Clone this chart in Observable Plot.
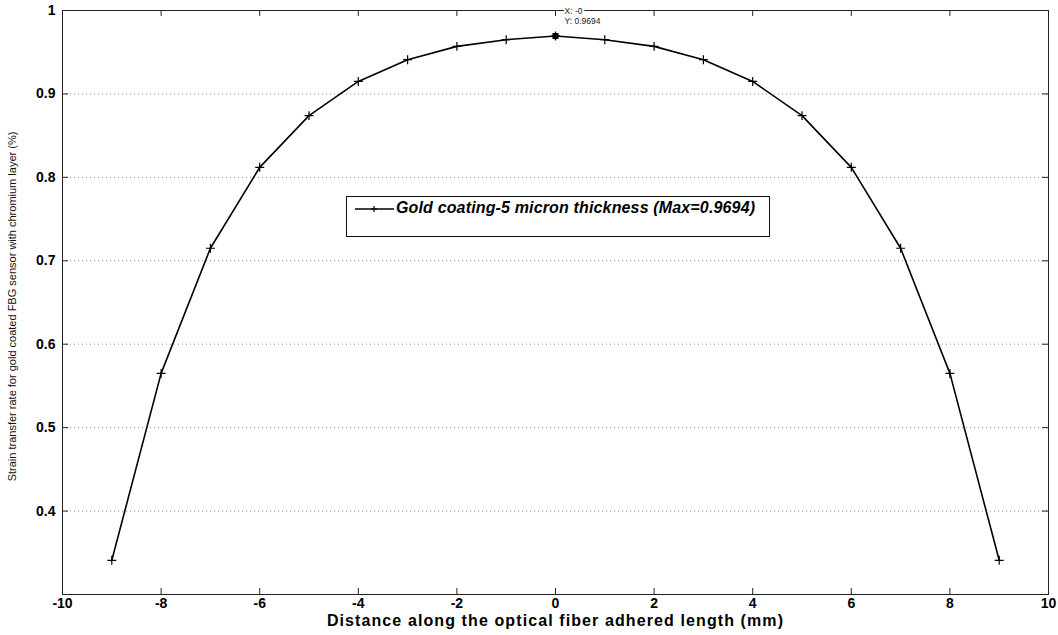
<!DOCTYPE html>
<html><head><meta charset="utf-8">
<script src="https://cdn.jsdelivr.net/npm/d3@7"></script>
<script src="https://cdn.jsdelivr.net/npm/@observablehq/plot@0.6"></script>
<style>
body{margin:0;background:#fff}
#wrap{position:relative;width:1058px;height:635px;font-family:"Liberation Sans",Arial,sans-serif}
#legend{position:absolute;left:346px;top:196px;width:424px;height:41px;border:1px solid #111;background:#fff;box-sizing:border-box}
#legend svg{position:absolute;left:6px;top:4px}
#legend span{position:absolute;left:49px;top:2px;font-size:16px;font-weight:bold;font-style:italic;white-space:nowrap;color:#000;letter-spacing:0.15px}
</style>
</head><body><div id="wrap"></div>
<script>
const distance = [-9,-8,-7,-6,-5,-4,-3,-2,-1,0,1,2,3,4,5,6,7,8,9];
const strainRate = [0.341,0.565,0.715,0.812,0.874,0.915,0.941,0.957,0.965,0.9694,0.965,0.957,0.941,0.915,0.874,0.812,0.715,0.565,0.341];
const xTicks = [-10,-8,-6,-4,-2,0,2,4,6,8,10];
const yTicks = [0.4,0.5,0.6,0.7,0.8,0.9,1];
const yGrid = [0.4,0.5,0.6,0.7,0.8,0.9];
const seriesName = "Gold coating-5 micron thickness (Max=0.9694)";
const xTitle = "Distance along the optical fiber adhered length (mm)";
const yTitle = "Strain transfer rate for gold coated FBG sensor with chromium layer (%)";
const tipX = [0];
const tipY = [0.9694];
const tipText = ["X: -0\nY: 0.9694"];

const data = distance.map((d, i) => ({x: d, y: strainRate[i]}));
const tip = tipX.map((d, i) => ({x: d, y: tipY[i], t: tipText[i]}));

const W = 1058, H = 635, mL = 62, mR = 10, mT = 10, mB = 41;
const fw = W - mL - mR, fh = H - mT - mB;

const chart = Plot.plot({
  width: W, height: H,
  marginLeft: mL, marginRight: mR, marginTop: mT, marginBottom: mB,
  style: {fontFamily: "'Liberation Sans', Arial, sans-serif", background: "#fff", color: "#000"},
  x: {domain: [-10, 10]},
  y: {domain: [0.3, 1]},
  marks: [
    Plot.ruleY(yGrid, {stroke: "#888", strokeDasharray: "1,3", strokeWidth: 1}),
    Plot.frame({stroke: "#222", strokeWidth: 1}),
    Plot.tickX(xTicks, {x: d => d, insetTop: fh - 6, stroke: "#222"}),
    Plot.tickX(xTicks, {x: d => d, insetBottom: fh - 6, stroke: "#222"}),
    Plot.tickY(yTicks, {y: d => d, insetRight: fw - 6, stroke: "#222"}),
    Plot.tickY(yTicks, {y: d => d, insetLeft: fw - 6, stroke: "#222"}),
    Plot.axisX(xTicks, {tickSize: 0, tickPadding: 4, fontSize: 14, fontWeight: "bold", label: null, tickFormat: d => String(d)}),
    Plot.axisY(yTicks, {tickSize: 0, tickPadding: 7, fontSize: 14, fontWeight: "bold", label: null, tickFormat: d => String(d)}),
    Plot.line(data, {x: "x", y: "y", stroke: "#000", strokeWidth: 1.6}),
    Plot.dot(data, {x: "x", y: "y", symbol: "plus", r: 3, stroke: "#000", strokeWidth: 1.2}),
    Plot.dot(tip, {x: "x", y: "y", symbol: "square", fill: "#000", r: 3.4}),
    Plot.text(tip, {x: "x", y: "y", text: "t", dx: 9, dy: -29, textAnchor: "start", lineAnchor: "top", fontSize: 8.5, lineHeight: 1.2, fill: "#222", stroke: "#fff", strokeWidth: 4}),
    Plot.text([yTitle], {frameAnchor: "left", rotate: -90, dx: -50, dy: 4, textAnchor: "middle", text: d => d, fontSize: 11, fill: "#111"}),
    Plot.text([xTitle], {frameAnchor: "bottom", dy: 31, text: d => d, fontSize: 16, fontWeight: "bold", fill: "#000"})
  ]
});
d3.select(chart).selectAll("text").filter(function() { return this.textContent === xTitle; }).attr("letter-spacing", "1.1");
const wrap = document.getElementById("wrap");
wrap.appendChild(chart);

const legend = document.createElement("div");
legend.id = "legend";
legend.innerHTML = `<svg width="42" height="16"><line x1="2" y1="8" x2="41" y2="8" stroke="#000" stroke-width="1.4"/><path d="M18,8h6M21,5v6" stroke="#000" stroke-width="1.2"/></svg><span></span>`;
legend.querySelector("span").textContent = seriesName;
wrap.appendChild(legend);
</script>
</body></html>
